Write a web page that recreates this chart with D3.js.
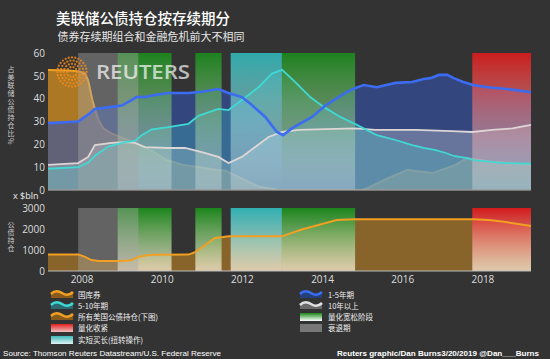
<!DOCTYPE html>
<html>
<head>
<meta charset="utf-8">
<script src="https://cdn.jsdelivr.net/npm/d3@7"></script>
<style>
  body { margin: 0; background: #333333; }
  svg { display: block; }
  text { font-family: "Noto Sans CJK SC", "Liberation Sans", sans-serif; }
</style>
</head>
<body>
<div id="chart"></div>
<script>
// ---- data ----
const billDates = ["2007-03-01","2007-09-01","2007-12-01","2008-02-01","2008-03-01","2008-03-20","2008-04-08","2008-05-05","2008-06-03","2008-07-17","2008-09-20","2009-01-07","2009-04-08","2009-09-20","2010-02-20","2010-07-15","2010-12-15","2011-05-20","2011-08-01","2012-01-01","2012-06-01","2012-12-01","2015-01-01","2015-02-25","2015-08-15","2016-02-15","2016-10-01","2017-05-01","2017-08-15","2018-03-01","2019-03-20"];
const billPct = [52.6,52.3,52,51,48,43.8,39.4,35,30.7,27,25,22.8,21,17.5,13,11,10,8.8,8.5,5,1.5,0,0,0.9,5,8.8,7.4,11,14,12.5,11];

const shortDates = ["2007-03-01","2007-12-01","2008-03-01","2008-05-01","2008-10-01","2009-01-01","2009-04-01","2009-05-15","2009-08-01","2009-11-01","2010-03-01","2010-09-01","2011-01-01","2011-06-01","2011-09-01","2012-01-01","2012-04-01","2012-08-01","2012-11-15","2013-01-10","2013-04-01","2013-10-01","2014-02-01","2014-08-01","2014-11-01","2015-01-15","2015-05-15","2015-11-01","2016-04-01","2016-07-15","2016-09-15","2016-12-01","2017-02-15","2017-04-15","2017-07-10","2017-10-10","2018-02-15","2018-08-15","2019-02-20","2019-03-20"];
const shortPct = [29.3,30,33,35.5,36.4,37,39.4,40.7,40.7,41.6,42.5,42.5,43,44.2,42.5,40.7,37.2,32,25.4,24,27,32,37,42.5,44.7,46,45,46.9,47.3,48.6,49,50.4,50.4,49,47.3,46,45,44.2,43,42.8];

const midDates = ["2007-03-01","2007-12-01","2008-03-01","2008-05-01","2008-09-01","2009-02-01","2009-05-01","2009-07-01","2009-10-01","2010-03-01","2010-09-01","2010-12-01","2011-06-01","2011-09-01","2012-01-01","2012-06-01","2012-10-01","2013-01-01","2013-04-15","2013-09-15","2014-01-15","2014-06-15","2014-10-30","2015-01-15","2015-05-15","2015-11-01","2016-04-01","2016-07-15","2016-11-01","2017-02-01","2017-04-15","2017-08-15","2017-10-15","2018-07-15","2019-03-20"];
const midPct = [9.3,10,12,15,19,21,21.5,24,26.5,27.5,29,32.5,35.5,35,39.4,45,51,52.6,48,40.7,36.4,32,28.9,27,24,21.9,19.7,18.4,17.5,16.2,14.9,14,13.1,11.8,11.5];

const longDates = ["2007-03-01","2007-12-01","2008-03-01","2008-05-01","2008-10-01","2009-02-01","2009-05-01","2009-08-01","2010-03-01","2010-08-01","2011-01-01","2011-06-01","2011-09-01","2012-01-01","2012-05-01","2012-09-01","2013-01-01","2013-06-01","2014-02-01","2014-11-01","2015-05-01","2016-05-01","2017-04-01","2017-10-01","2018-04-01","2018-10-01","2019-03-20"];
const longPct = [11,11.8,14.5,19.7,20.6,21,20.6,18.8,18.4,18.4,16.6,14.5,11.8,14.5,18.8,23.2,25.4,26.3,26.7,27,26.3,26.3,25.8,25.4,26.3,27,28.5];

const totalDates = ["2007-03-01","2007-12-01","2008-02-01","2008-04-01","2008-06-01","2009-01-01","2009-04-01","2009-06-01","2009-09-01","2009-12-01","2010-09-01","2010-11-01","2011-02-01","2011-05-01","2011-07-15","2011-09-01","2012-12-31","2013-06-15","2014-01-01","2014-05-15","2014-10-30","2017-10-01","2018-03-01","2018-08-01","2019-03-20"];
const totalBln = [790,790,670,520,480,475,520,670,760,776,780,900,1240,1570,1620,1660,1650,1950,2240,2430,2460,2460,2430,2330,2140];

const bandStart = ["2007-12-01","2008-11-25","2010-11-03","2011-09-21","2012-12-31","2017-10-01"];
const bandEnd   = ["2009-06-01","2010-03-31","2011-06-30","2012-12-31","2014-10-29","2019-03-20"];
const bandType  = ["recession","qe","qe","twist","qe","qt"];

const topTicks = [0,10,20,30,40,50,60];
const botTicks = [0,1000,2000,3000];
const yearTicks = [2008,2010,2012,2014,2016,2018];

// ---- layout ----
const W = 550, H = 359;
const parse = d3.timeParse("%Y-%m-%d");
const toPts = (dates, vals) => dates.map((d, i) => ({ date: parse(d), v: vals[i] }));

const x = d3.scaleTime()
  .domain([new Date(2007, 2, 1), new Date(2019, 2, 20)])
  .range([48, 531]);
const yTop = d3.scaleLinear().domain([0, 60]).range([190, 53]);
const yBot = d3.scaleLinear().domain([0, 3000]).range([271, 208]);

const svg = d3.select("#chart").append("svg")
  .attr("width", W).attr("height", H)
  .style("background", "#333333");

const defs = svg.append("defs");
defs.append("clipPath").attr("id", "clipTop")
  .append("rect").attr("x", 40).attr("y", 40).attr("width", 500).attr("height", 149.6);

const bandColor = { qe: "#1a8a1a", twist: "#2fb6b8", qt: "#dc1a1a" };

// gradient per band kind and panel
function grad(id, color, topOp, endColor, endOp) {
  const g = defs.append("linearGradient").attr("id", id)
    .attr("x1", 0).attr("y1", 0).attr("x2", 0).attr("y2", 1);
  g.append("stop").attr("offset", "0%").attr("stop-color", color).attr("stop-opacity", topOp);
  g.append("stop").attr("offset", "100%").attr("stop-color", endColor).attr("stop-opacity", endOp);
}
Object.entries(bandColor).forEach(([k, c]) => {
  grad("top-" + k, c, 0.9, "#ffffff", 0.25);
  grad("bot-" + k, c, 0.95, "#fff3dc", 0.72);
});
grad("leg-qe", bandColor.qe, 1, "#ffffff", 1);
grad("leg-twist", "#3fb8b8", 1, "#e0f4f4", 1);
grad("leg-qt", "#e0201e", 1, "#f0c0c0", 1);

const bands = bandStart.map((s, i) => ({ s: parse(s), e: parse(bandEnd[i]), type: bandType[i] }));

function drawBands(g, y0, y1, prefix) {
  g.selectAll("rect.band")
    .data(bands.filter(b => b.type !== "recession"))
    .enter().append("rect")
    .attr("x", d => x(d.s)).attr("width", d => x(d.e) - x(d.s))
    .attr("y", y1).attr("height", y0 - y1)
    .attr("fill", d => `url(#${prefix}-${d.type})`);
  g.selectAll("rect.rec")
    .data(bands.filter(b => b.type === "recession"))
    .enter().append("rect")
    .attr("x", d => x(d.s)).attr("width", d => x(d.e) - x(d.s))
    .attr("y", y1).attr("height", y0 - y1)
    .attr("fill", "#a8a8a8").attr("opacity", 0.42);
}

// ---- top panel ----
const topG = svg.append("g").attr("clip-path", "url(#clipTop)");
const bills = toPts(billDates, billPct);
const short = toPts(shortDates, shortPct);
const mid = toPts(midDates, midPct);
const long = toPts(longDates, longPct);

const areaTop = d3.area().x(d => x(d.date)).y0(yTop(0)).y1(d => yTop(d.v));
const lineTop = d3.line().x(d => x(d.date)).y(d => yTop(d.v));

topG.append("path").datum(bills).attr("d", areaTop).attr("fill", "#e0961e").attr("opacity", 0.7);
topG.append("path").datum(bills).attr("d", lineTop).attr("fill", "none")
  .attr("stroke", "#f2a024").attr("stroke-width", 2);
topG.append("path").datum(short).attr("d", areaTop).attr("fill", "#3354ac").attr("opacity", 0.62);
topG.append("path").datum(long).attr("d", areaTop).attr("fill", "#d2d6de").attr("opacity", 0.33);
topG.append("path").datum(mid).attr("d", areaTop).attr("fill", "#44c8c8").attr("opacity", 0.28);

drawBands(topG, yTop(0), yTop(60), "top");

topG.append("path").datum(long).attr("d", lineTop).attr("fill", "none")
  .attr("stroke", "#ddd6d6").attr("stroke-width", 1.8);
topG.append("path").datum(mid).attr("d", lineTop).attr("fill", "none")
  .attr("stroke", "#40d8d2").attr("stroke-width", 1.8);
topG.append("path").datum(short).attr("d", lineTop).attr("fill", "none")
  .attr("stroke", "#3b6cf2").attr("stroke-width", 2.6);

svg.append("line").attr("x1", 48).attr("x2", 531)
  .attr("y1", yTop(0)).attr("y2", yTop(0)).attr("stroke", "#bbbbbb").attr("stroke-width", 1.2);

const axTop = svg.append("g").attr("transform", "translate(45,0)")
  .call(d3.axisLeft(yTop).tickValues(topTicks).tickSize(0).tickPadding(0));
axTop.select(".domain").remove();
axTop.selectAll("text").attr("fill", "#dddddd").style("font-size", "10px")
  .style("font-family", "'Open Sans','Liberation Sans',sans-serif");

// Reuters watermark
const logo = svg.append("g").attr("transform", "translate(72,72)").attr("opacity", 0.85);
[[5, 10], [8.2, 16], [11.4, 22], [14.6, 28]].forEach(([r, n]) => {
  d3.range(n).forEach(i => {
    const a = (i / n) * 2 * Math.PI;
    logo.append("circle").attr("cx", r * Math.cos(a)).attr("cy", r * Math.sin(a))
      .attr("r", 1.15).attr("fill", "#f08c1e");
  });
});
svg.append("text").attr("x", 96).attr("y", 79).text("REUTERS")
  .attr("fill", "#ffffff").attr("opacity", 0.68)
  .attr("textLength", 94).attr("lengthAdjust", "spacingAndGlyphs")
  .style("font-family", "'Open Sans','Liberation Sans',sans-serif")
  .style("font-size", "19px").style("font-weight", "600");

// ---- bottom panel ----
const botG = svg.append("g");
const total = toPts(totalDates, totalBln);
const areaBot = d3.area().x(d => x(d.date)).y0(yBot(0)).y1(d => yBot(d.v));
const lineBot = d3.line().x(d => x(d.date)).y(d => yBot(d.v));

botG.append("path").datum(total).attr("d", areaBot).attr("fill", "#f0a020").attr("opacity", 0.45);
drawBands(botG, yBot(0), yBot(3000), "bot");
botG.append("path").datum(total).attr("d", lineBot).attr("fill", "none")
  .attr("stroke", "#f2a024").attr("stroke-width", 2);
botG.append("line").attr("x1", 48).attr("x2", 531)
  .attr("y1", yBot(0)).attr("y2", yBot(0)).attr("stroke", "#bbbbbb").attr("stroke-width", 1);

const axBot = botG.append("g").attr("transform", "translate(45,0)")
  .call(d3.axisLeft(yBot).tickValues(botTicks).tickFormat(d3.format("d")).tickSize(0).tickPadding(0));
axBot.select(".domain").remove();
axBot.selectAll("text").attr("fill", "#dddddd").style("font-size", "10px")
  .style("font-family", "'Open Sans','Liberation Sans',sans-serif");

const axX = svg.append("g").attr("transform", "translate(0,273)")
  .call(d3.axisBottom(x).tickValues(yearTicks.map(yr => new Date(yr, 0, 1)))
    .tickFormat(d3.timeFormat("%Y")).tickSize(0).tickPadding(3));
axX.select(".domain").remove();
axX.selectAll("text").attr("fill", "#dddddd").style("font-size", "10px")
  .style("font-family", "'Open Sans','Liberation Sans',sans-serif");

svg.append("text").attr("x", 13).attr("y", 199).text("x $bln")
  .attr("fill", "#eeeeee").style("font-size", "9px")
  .style("font-family", "'Open Sans','Liberation Sans',sans-serif");

// vertical axis titles (one text each, upright CJK in vertical writing mode)
function vText(str, cx, y0) {
  svg.append("text").attr("x", cx).attr("y", y0).text(str)
    .attr("writing-mode", "tb").style("writing-mode", "vertical-rl")
    .attr("fill", "#cccccc").style("font-size", "7px").style("letter-spacing", "1px");
}
vText("占美联储公债持仓比%", 11, 66);
vText("公债持仓", 11, 221);

// ---- titles ----
svg.append("text").attr("x", 143).attr("y", 24).attr("text-anchor", "middle")
  .text("美联储公债持仓按存续期分").attr("fill", "#ffffff")
  .style("font-size", "14.5px").style("font-weight", "500");
svg.append("text").attr("x", 151).attr("y", 41).attr("text-anchor", "middle")
  .text("债券存续期组合和金融危机前大不相同").attr("fill", "#e6e6e6")
  .style("font-size", "11px");

// ---- legend ----
const legLeft = ["国库券", "5-10年期", "所有美国公债持仓(下图)", "量化收紧", "实短买长(扭转操作)"];
const legRight = ["1-5年期", "10年以上", "量化宽松阶段", "衰退期"];
const legRows = [295, 306, 317, 328, 340];
const wave = "M0,4 C4,0 8,1 11,3 S18,6 22,2";
const waveArea = "M0,4 C4,0 8,1 11,3 S18,6 22,2 L22,8 L0,8 Z";

function waveSwatch(x0, y, color, fill) {
  const g = svg.append("g").attr("transform", `translate(${x0},${y - 5})`);
  g.append("path").attr("d", waveArea).attr("fill", fill);
  g.append("path").attr("d", wave).attr("fill", "none").attr("stroke", color).attr("stroke-width", 2.6);
}
function rectSwatch(x0, y, fill) {
  svg.append("rect").attr("x", x0).attr("y", y - 4).attr("width", 22).attr("height", 8).attr("fill", fill);
}
waveSwatch(51, legRows[0], "#f2a024", "#8a5a1a");
waveSwatch(51, legRows[1], "#40d8d2", "#2a6a70");
waveSwatch(51, legRows[2], "#f2a024", "#8a5a1a");
rectSwatch(51, legRows[3], "url(#leg-qt)");
rectSwatch(51, legRows[4], "url(#leg-twist)");
waveSwatch(300, legRows[0], "#3b6cf2", "#24407a");
waveSwatch(300, legRows[1], "#e0e0e0", "#6a6a6a");
rectSwatch(300, legRows[2], "url(#leg-qe)");
rectSwatch(300, legRows[3], "#777777");

legLeft.forEach((t, i) => {
  svg.append("text").attr("x", 78).attr("y", legRows[i] + 3).text(t)
    .attr("fill", "#f0f0f0").style("font-size", "7.5px");
});
legRight.forEach((t, i) => {
  svg.append("text").attr("x", 328).attr("y", legRows[i] + 3).text(t)
    .attr("fill", "#f0f0f0").style("font-size", "7.5px");
});

// ---- footer: size the font so each line fills its measured width ----
function fitText(str, x0, width, weight) {
  const t = svg.append("text").attr("x", x0).attr("y", 356).text(str)
    .attr("fill", "#ffffff")
    .style("font-family", "'Liberation Sans',Arial,sans-serif")
    .style("font-size", "10px").style("font-weight", weight);
  const w = t.node().getComputedTextLength();
  t.style("font-size", (10 * width / w).toFixed(2) + "px");
}
fitText("Source: Thomson Reuters Datastream/U.S. Federal Reserve", 3, 218, "normal");
fitText("Reuters graphic/Dan Burns3/20/2019 @Dan___Burns", 337, 202, "bold");
</script>
</body>
</html>
